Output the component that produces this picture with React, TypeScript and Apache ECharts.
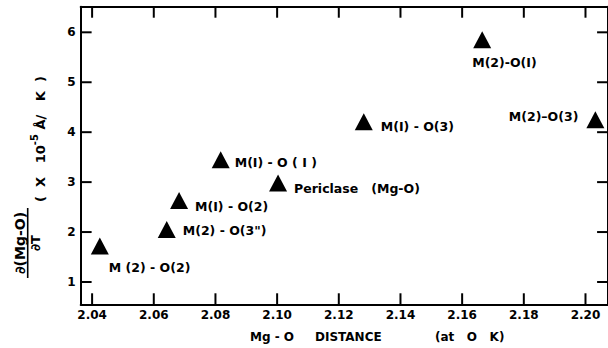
import React, { useEffect, useRef } from "react";
import * as echarts from "echarts";

// Mg–O bond length at 0 K versus its thermal expansion d(Mg-O)/dT (x10^-5 Å/K)
const distances = [2.0425, 2.0642, 2.0682, 2.0817, 2.1003, 2.1281, 2.1665, 2.2032];
const slopes = [1.72, 2.05, 2.63, 3.45, 2.98, 4.21, 5.85, 4.25];
const bondNames = [
  "M (2) - O(2)",
  "M(2) - O(3\")",
  "M(I) - O(2)",
  "M(I) - O ( I )",
  "Periclase   (Mg-O)",
  "M(I) - O(3)",
  "M(2)-O(I)",
  "M(2)\u2013O(3)",
];
const xTicks = [2.04, 2.06, 2.08, 2.1, 2.12, 2.14, 2.16, 2.18, 2.2];
const yTicks = [1, 2, 3, 4, 5, 6];

const X_MIN = 2.0363;
const X_MAX = 2.2073;
const Y_MIN = 0.553;
const Y_MAX = 6.513;

const INK = "#000";
const FONT = '"DejaVu Sans", sans-serif';
const TICK_LEN = 11;
const TICK_W = 2;

// where each bond label sits relative to its marker
const labelPlacement: { position: "left" | "right"; distance: number; offset: [number, number] }[] = [
  { position: "right", distance: 0, offset: [0, 21] },
  { position: "right", distance: 7, offset: [0, 1] },
  { position: "right", distance: 7, offset: [0, 6] },
  { position: "right", distance: 5, offset: [0, 3] },
  { position: "right", distance: 7, offset: [0, 5] },
  { position: "right", distance: 8, offset: [0, 5] },
  { position: "right", distance: 0, offset: [-19, 23] },
  { position: "left", distance: 8, offset: [0, -3] },
];

const frameLine = { show: true, onZero: false, lineStyle: { color: INK, width: 2 } };

function frameAxis(position: string, min: number, max: number, labels: object) {
  return {
    type: "value",
    position,
    min,
    max,
    axisLine: frameLine,
    axisTick: { show: false },
    splitLine: { show: false },
    axisLabel: labels,
  };
}

// inward tick marks on the frame: each one is a short two-point line in data space
function tickLines(): any[] {
  const xStep = (X_MAX - X_MIN) * 0.0207; // ~11 px of the plot width
  const yStep = (Y_MAX - Y_MIN) * 0.037; // ~11 px of the plot height
  const segs: any[] = [];
  const seg = (a: number[], b: number[]) => ({
    type: "line",
    xAxisIndex: 0,
    yAxisIndex: 0,
    data: [a, b],
    symbol: "none",
    clip: false,
    silent: true,
    lineStyle: { color: INK, width: TICK_W, opacity: 1 },
    emphasis: { disabled: true },
    z: 5,
  });
  xTicks.forEach((v) => {
    segs.push(seg([v, Y_MIN], [v, Y_MIN + yStep]));
    segs.push(seg([v, Y_MAX], [v, Y_MAX - yStep]));
  });
  yTicks.forEach((v) => {
    segs.push(seg([X_MIN, v], [X_MIN + xStep, v]));
    segs.push(seg([X_MAX, v], [X_MAX - xStep, v]));
  });
  return segs;
}

const titleGraphics = [
  // x axis title
  {
    type: "text",
    x: 250,
    y: 337,
    style: { text: "Mg - O", font: `bold 12px ${FONT}`, fill: INK, verticalAlign: "middle" },
  },
  {
    type: "text",
    x: 315,
    y: 337,
    style: { text: "DISTANCE", font: `bold 12px ${FONT}`, fill: INK, verticalAlign: "middle" },
  },
  {
    type: "text",
    x: 435,
    y: 337,
    style: { text: "(at   O   K)", font: `bold 12px ${FONT}`, fill: INK, verticalAlign: "middle" },
  },
  // y axis title: derivative written as a fraction, then units
  {
    type: "group",
    x: 27.7,
    y: 243,
    rotation: Math.PI / 2,
    children: [
      {
        type: "text",
        x: 0,
        y: -1,
        style: {
          text: "\u2202(Mg-O)",
          font: `bold 14px ${FONT}`,
          fill: INK,
          align: "center",
          verticalAlign: "bottom",
        },
      },
      {
        type: "line",
        shape: { x1: -35, y1: 0, x2: 35, y2: 0 },
        style: { stroke: INK, lineWidth: 1.6 },
      },
      {
        type: "text",
        x: 0,
        y: 1.5,
        style: {
          text: "\u2202T",
          font: `bold 13px ${FONT}`,
          fill: INK,
          align: "center",
          verticalAlign: "top",
        },
      },
    ],
  },
  {
    type: "text",
    x: 38,
    y: 139,
    rotation: Math.PI / 2,
    style: {
      text: "{t|(  X   10}{s|-5}{t| \u00C5/   K  )}",
      align: "center",
      verticalAlign: "middle",
      rich: {
        t: { font: `bold 13px ${FONT}`, fill: INK, lineHeight: 18, verticalAlign: "bottom" },
        s: { font: `bold 10px ${FONT}`, fill: INK, lineHeight: 18, verticalAlign: "top" },
      },
    },
  },
];

export default function App() {
  const ref = useRef<HTMLDivElement>(null);

  useEffect(() => {
    if (!ref.current) return;
    const chart = echarts.init(ref.current, null, { renderer: "svg" });

    const data = distances.map((x, i) => ({
      value: [x, slopes[i]],
      name: bondNames[i],
      label: {
        show: true,
        position: labelPlacement[i].position,
        distance: labelPlacement[i].distance,
        offset: labelPlacement[i].offset,
        formatter: "{b}",
        color: INK,
        fontFamily: FONT,
        fontWeight: "bold",
        fontSize: 12.5,
      },
    }));

    const tickFont = { color: INK, fontFamily: FONT, fontWeight: "bold", fontSize: 12 };

    chart.setOption({
      animation: false,
      backgroundColor: "#fff",
      grid: { left: 80.7, top: 6.7, right: -3, bottom: 43.7, containLabel: false },
      xAxis: [
        frameAxis("bottom", X_MIN, X_MAX, {
          show: true,
          margin: 5,
          customValues: xTicks,
          formatter: (v: number) => v.toFixed(2),
          ...tickFont,
        }),
        frameAxis("top", X_MIN, X_MAX, { show: false }),
      ],
      yAxis: [
        frameAxis("left", Y_MIN, Y_MAX, {
          show: true,
          margin: 5,
          customValues: yTicks,
          formatter: (v: number) => String(v),
          ...tickFont,
        }),
        frameAxis("right", Y_MIN, Y_MAX, { show: false }),
      ],
      series: [
        ...tickLines(),
        {
          type: "scatter",
          xAxisIndex: 0,
          yAxisIndex: 0,
          symbol: "triangle",
          symbolSize: [18, 17],
          itemStyle: { color: INK, opacity: 1 },
          emphasis: { disabled: true },
          z: 6,
          data,
        },
      ],
      graphic: titleGraphics,
    });

    return () => chart.dispose();
  }, []);

  return (
    <div
      ref={ref}
      style={{ position: "fixed", left: 0, top: 0, width: 608, height: 348, background: "#fff" }}
    />
  );
}
